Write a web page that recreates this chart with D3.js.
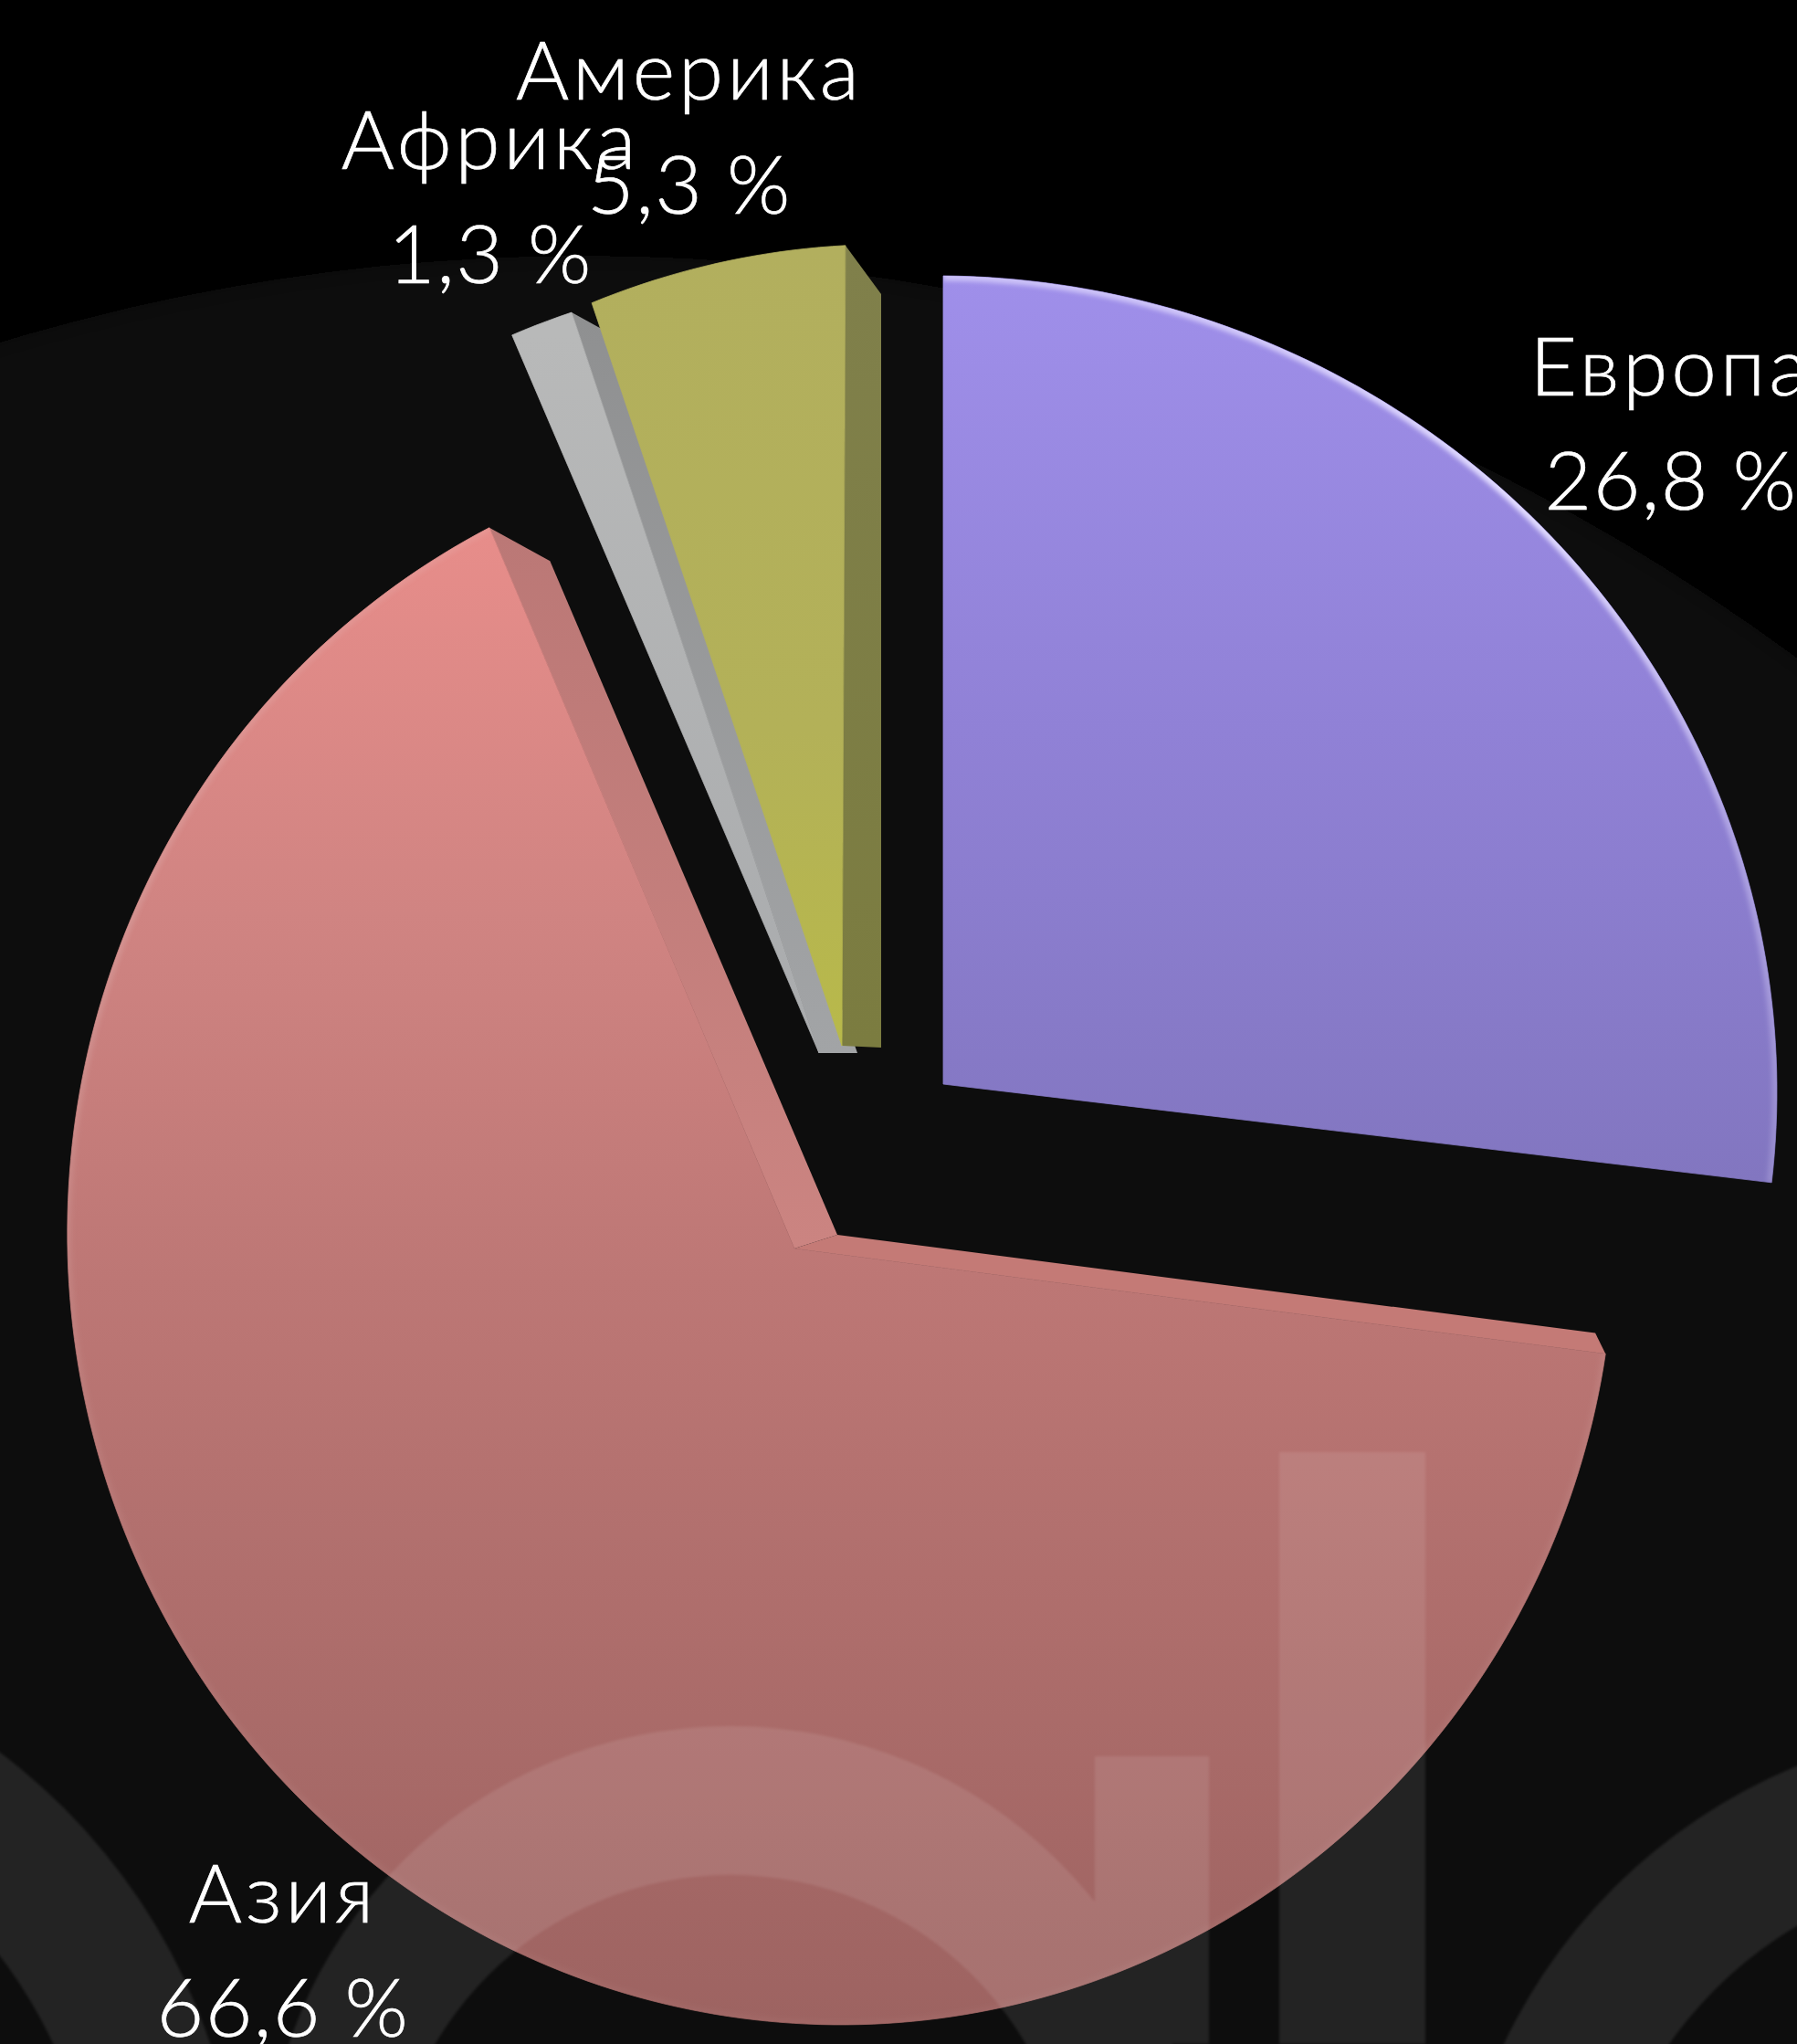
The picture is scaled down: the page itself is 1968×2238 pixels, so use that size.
<!DOCTYPE html>
<html lang="ru">
<head>
<meta charset="utf-8">
<title>Доли регионов</title>
<script src="https://cdn.jsdelivr.net/npm/d3@7"></script>
<style>
html,body{margin:0;padding:0;background:#000;overflow:hidden}
svg{display:block;position:absolute;left:0;top:0}
text{font-family:Lato,"Noto Sans",sans-serif;font-weight:300;fill:#fff;stroke:#fff;stroke-width:0.7;text-anchor:middle}
</style>
</head>
<body>
<svg id="chart" width="1968" height="2238" viewBox="0 0 1968 2238"></svg>
<script>
// Data
const categories = ["Европа", "Азия", "Африка", "Америка"];
const shares = [26.8, 66.6, 1.3, 5.3];

// Layout and look of each slice (same order as categories)
const sliceOutlines = [
  {ax:1033, ay:1187, cx:1033, cy:1187, rx:913, ry:885, k:8,   p:0,     adj:[0,0]},
  {ax:870,  ay:1367, cx:921,  cy:1368, rx:847, ry:866.6, k:0, p:0.0208, adj:[1.12,-2.74]},
  {ax:897,  ay:1153, cx:897,  cy:1153, rx:855, ry:855, k:0,   p:0,     adj:[0.6,0.6]},
  {ax:922,  ay:1145, cx:922,  cy:1145, rx:849, ry:876, k:-49, p:0,     adj:[0.26,0.26]}
];
const sliceWalls = [
  [],
  [{edge:0, bx:917, by:1352, r:837, rot:0.9, top:"#c47a76", bottom:"#c47a76"},
   {edge:1, bx:917, by:1352, r:802, rot:0.66, top:"#bb7876", bottom:"#cb8481"}],
  [{edge:1, bx:939, by:1153, r:838, rot:-0.2, top:"#8f9091", bottom:"#a2a4a6"}],
  [{edge:1, bx:965, by:1147, r:825, rot:0, top:"#80804b", bottom:"#7b7c40"}]
];
const faceStops = [
  [[302,"#9f8fea"],[800,"#9081d6"],[1295,"#8276c0"]],
  [[583,"#e78d8a"],[1000,"#d08482"],[1400,"#bd7775"],[1800,"#ad6d6b"],[2220,"#9d6361"]],
  [[368,"#b8b9b9"],[1153,"#a9abad"]],
  [[269,"#b2af5e"],[800,"#b3b158"],[1145,"#b8b94a"]]
];
const rimStyles = [
  {color:"#e2dcff", opacity:1, width:11},
  {color:"#e6c9c8", opacity:0.22, width:9},
  {color:"#ffffff", opacity:0, width:0},
  {color:"#ffffff", opacity:0, width:0}
];
const drawOrder = [1, 2, 3, 0];

// Label anchors (middle of the text, baselines of its two lines)
const labelLayout = [
  {x:1830, y1:433,  y2:558},
  {x:310,  y1:2105, y2:2230},
  {x:537,  y1:185,  y2:310},
  {x:755,  y1:109,  y2:234}
];
const labelSize = 89;
const nameSpacing = 4;
const shareSpacing = 1.5;

// Faint background logo
const logoRings = [
  {cx:-400, cy:2450, outer:665, inner:505},
  {cx:800,  cy:2400, outer:510, inner:0},
  {cx:2200, cy:2500, outer:612, inner:455}
];
const logoBars = [[1401,1590,160,648],[1199,1923,125,315]];
const logoHole = {cx:800, cy:2428, r:375};

const svg = d3.select("#chart");
const defs = svg.append("defs");
defs.append("filter").attr("id","soft").attr("x","-5%").attr("y","-5%").attr("width","110%").attr("height","110%")
  .append("feGaussianBlur").attr("stdDeviation",2.5);
defs.append("filter").attr("id","logoBlur").append("feGaussianBlur").attr("stdDeviation",1.4);
defs.append("filter").attr("id","bgBlur").attr("x","-5%").attr("y","-5%").attr("width","110%").attr("height","110%")
  .append("feGaussianBlur").attr("stdDeviation",14);
defs.append("filter").attr("id","textSoft").attr("x","-5%").attr("y","-20%").attr("width","110%").attr("height","140%")
  .append("feGaussianBlur").attr("stdDeviation",0.55);

// Background
svg.append("rect").attr("width",1968).attr("height",2238).attr("fill","#000");
svg.append("ellipse").attr("cx",640).attr("cy",2680).attr("rx",2300).attr("ry",2400).attr("fill","#0b0b0b").attr("filter","url(#bgBlur)");

const deg = d3.scaleLinear().domain([0,180]).range([0,Math.PI]);
const arcs = d3.pie().sort(null).startAngle(0).endAngle(2*Math.PI)(shares);

function outlinePoint(o, angle){
  const ux = Math.sin(angle), uy = -Math.cos(angle), w = 1 + o.p*uy;
  return [o.cx + o.rx*ux/w, o.cy + (o.ry*uy + o.k*ux)/w];
}
const line = d3.line();

const g = svg.append("g");
drawOrder.forEach(i => {
  const a = arcs[i], o = sliceOutlines[i];
  const t0 = a.startAngle + deg(o.adj[0]), t1 = a.endAngle + deg(o.adj[1]);
  const steps = d3.range(0, 1.0001, 1/Math.max(4, Math.ceil((t1-t0)/deg(1))));
  const rim = steps.map(s => outlinePoint(o, t0 + s*(t1-t0)));
  const poly = [[o.ax,o.ay], ...rim];
  const gid = "face"+i;
  const ys = faceStops[i].map(s=>s[0]), y0 = ys[0], y1 = ys[ys.length-1];
  const grad = defs.append("linearGradient").attr("id",gid).attr("gradientUnits","userSpaceOnUse")
    .attr("x1",0).attr("x2",0).attr("y1",y0).attr("y2",y1);
  faceStops[i].forEach(s => grad.append("stop").attr("offset",(s[0]-y0)/(y1-y0)).attr("stop-color",s[1]));

  sliceWalls[i].forEach((w,j) => {
    const front = w.edge===0 ? rim[0] : rim[rim.length-1];
    const ang = (w.edge===0 ? a.startAngle : a.endAngle) + deg(w.rot);
    const back = [w.bx + w.r*Math.sin(ang), w.by - w.r*Math.cos(ang)];
    const wid = "wall"+i+"_"+j;
    const wg = defs.append("linearGradient").attr("id",wid).attr("gradientUnits","userSpaceOnUse")
      .attr("x1",0).attr("x2",0).attr("y1",Math.min(front[1],back[1])).attr("y2",Math.max(o.ay,w.by));
    wg.append("stop").attr("offset",0).attr("stop-color",w.top);
    wg.append("stop").attr("offset",1).attr("stop-color",w.bottom);
    g.append("path").attr("d",line([[o.ax,o.ay],front,back,[w.bx,w.by]])+"Z").attr("fill",`url(#${wid})`);
  });

  const clipId = "clip"+i;
  const d = line(poly)+"Z";
  defs.append("clipPath").attr("id",clipId).append("path").attr("d",d);
  g.append("path").attr("class","slice").attr("d",d).attr("fill",`url(#${gid})`)
    .attr("stroke",`url(#${gid})`).attr("stroke-width",0.8);
  if(rimStyles[i].width>0){
    const rg = "rimg"+i;
    const r = defs.append("linearGradient").attr("id",rg).attr("gradientUnits","userSpaceOnUse")
      .attr("x1",0).attr("x2",0).attr("y1",y0).attr("y2",y1);
    r.append("stop").attr("offset",0).attr("stop-color",rimStyles[i].color).attr("stop-opacity",rimStyles[i].opacity*0.65);
    r.append("stop").attr("offset",0.25).attr("stop-color",rimStyles[i].color).attr("stop-opacity",rimStyles[i].opacity);
    r.append("stop").attr("offset",0.6).attr("stop-color",rimStyles[i].color).attr("stop-opacity",rimStyles[i].opacity*0.4);
    r.append("stop").attr("offset",1).attr("stop-color",rimStyles[i].color).attr("stop-opacity",rimStyles[i].opacity*0.2);
    g.append("g").attr("clip-path",`url(#${clipId})`)
      .append("path").attr("d",line(rim)).attr("fill","none")
      .attr("stroke",`url(#${rg})`).attr("stroke-width",rimStyles[i].width).attr("filter","url(#soft)");
  }
});

// Logo watermark, one flat tint over the slices
const logo = svg.append("g").attr("opacity",0.09).attr("filter","url(#logoBlur)").attr("fill","#fff");
function circlePath(cx,cy,r){const p=d3.path();p.moveTo(cx+r,cy);p.arc(cx,cy,r,0,2*Math.PI);p.closePath();return p.toString();}
logoRings.forEach(r => {
  let d = circlePath(r.cx,r.cy,r.outer);
  if(r.inner>0) d += circlePath(r.cx,r.cy,r.inner);
  else d += circlePath(logoHole.cx,logoHole.cy,logoHole.r);
  logo.append("path").attr("d",d).attr("fill-rule","evenodd");
});
logoBars.forEach(b => logo.append("rect").attr("x",b[0]).attr("y",b[1]).attr("width",b[2]).attr("height",b[3]));

// Labels
const fmt = d3.format(".1f");
const labels = svg.append("g").attr("filter","url(#textSoft)").attr("font-size",labelSize);
categories.forEach((c,i) => {
  const l = labelLayout[i];
  labels.append("text").attr("x",l.x).attr("y",l.y1).attr("letter-spacing",nameSpacing).text(c);
  labels.append("text").attr("x",l.x).attr("y",l.y2).attr("letter-spacing",shareSpacing).text(fmt(shares[i]).replace(".",",")+" %");
});
</script>
</body>
</html>
